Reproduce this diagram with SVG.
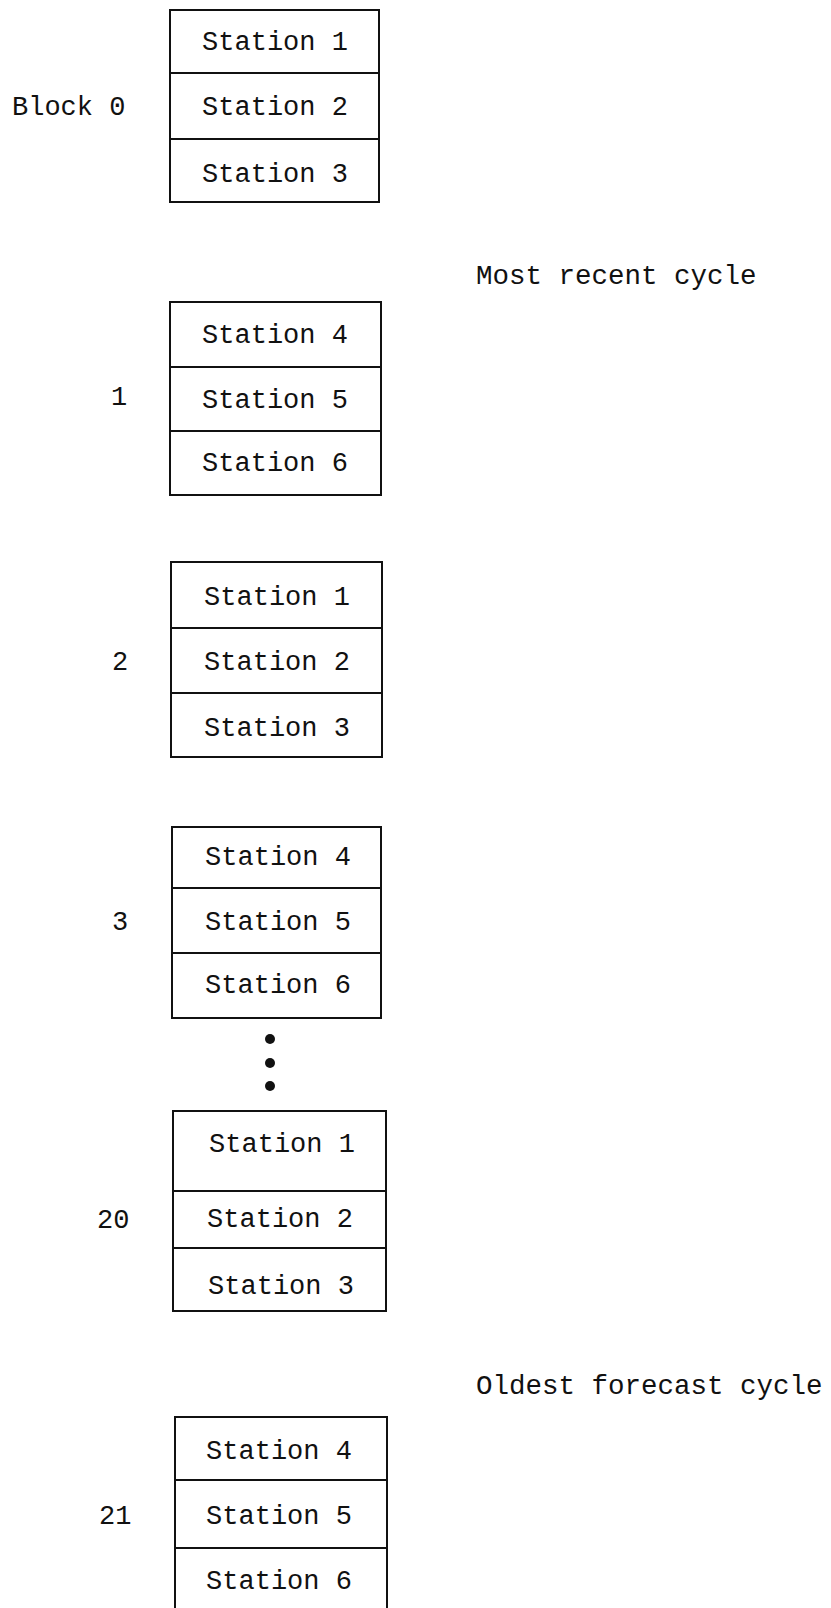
<svg xmlns="http://www.w3.org/2000/svg" width="831" height="1608" viewBox="0 0 831 1608">
<style>
  .box { fill: none; stroke: #111; stroke-width: 2; }
  .div { stroke: #111; stroke-width: 2; }
  .st { font-family: "Liberation Mono", "DejaVu Sans Mono", monospace; font-size: 27px; fill: #111; text-anchor: middle; }
  .lb { font-family: "Liberation Mono", "DejaVu Sans Mono", monospace; font-size: 27px; fill: #111; }
  .note { font-family: "Liberation Mono", "DejaVu Sans Mono", monospace; font-size: 27.5px; fill: #111; }
</style>
<rect width="831" height="1608" fill="#fff"/>

<g id="block0">
  <rect class="box" x="170" y="10" width="209" height="192"/>
  <line class="div" x1="170" y1="73" x2="379" y2="73"/>
  <line class="div" x1="170" y1="139" x2="379" y2="139"/>
  <text class="st" x="275" y="50">Station 1</text>
  <text class="st" x="275" y="115">Station 2</text>
  <text class="st" x="275" y="182">Station 3</text>
  <text class="lb" x="12" y="115">Block 0</text>
</g>

<g id="note-recent">
  <text class="note" x="476" y="284">Most recent cycle</text>
</g>

<g id="block1">
  <rect class="box" x="170" y="302" width="211" height="193"/>
  <line class="div" x1="170" y1="367" x2="381" y2="367"/>
  <line class="div" x1="170" y1="431" x2="381" y2="431"/>
  <text class="st" x="275" y="343">Station 4</text>
  <text class="st" x="275" y="408">Station 5</text>
  <text class="st" x="275" y="471">Station 6</text>
  <text class="lb" x="111" y="405">1</text>
</g>

<g id="block2">
  <rect class="box" x="171" y="562" width="211" height="195"/>
  <line class="div" x1="171" y1="628" x2="382" y2="628"/>
  <line class="div" x1="171" y1="693" x2="382" y2="693"/>
  <text class="st" x="277" y="605">Station 1</text>
  <text class="st" x="277" y="670">Station 2</text>
  <text class="st" x="277" y="736">Station 3</text>
  <text class="lb" x="112" y="670">2</text>
</g>

<g id="block3">
  <rect class="box" x="172" y="827" width="209" height="191"/>
  <line class="div" x1="172" y1="888" x2="381" y2="888"/>
  <line class="div" x1="172" y1="953" x2="381" y2="953"/>
  <text class="st" x="278" y="865">Station 4</text>
  <text class="st" x="278" y="930">Station 5</text>
  <text class="st" x="278" y="993">Station 6</text>
  <text class="lb" x="112" y="930">3</text>
</g>

<g id="ellipsis">
  <circle cx="270" cy="1039" r="5" fill="#111"/>
  <circle cx="270" cy="1063" r="5" fill="#111"/>
  <circle cx="270" cy="1086" r="5" fill="#111"/>
</g>

<g id="block20">
  <rect class="box" x="173" y="1111" width="213" height="200"/>
  <line class="div" x1="173" y1="1191" x2="386" y2="1191"/>
  <line class="div" x1="173" y1="1248" x2="386" y2="1248"/>
  <text class="st" x="282" y="1152">Station 1</text>
  <text class="st" x="280" y="1227">Station 2</text>
  <text class="st" x="281" y="1294">Station 3</text>
  <text class="lb" x="97" y="1228">20</text>
</g>

<g id="note-oldest">
  <text class="note" x="476" y="1394">Oldest forecast cycle</text>
</g>

<g id="block21">
  <rect class="box" x="175" y="1417" width="212" height="200"/>
  <line class="div" x1="175" y1="1480" x2="387" y2="1480"/>
  <line class="div" x1="175" y1="1548" x2="387" y2="1548"/>
  <text class="st" x="279" y="1459">Station 4</text>
  <text class="st" x="279" y="1524">Station 5</text>
  <text class="st" x="279" y="1589">Station 6</text>
  <text class="lb" x="99" y="1524">21</text>
</g>

<g id="connectors"></g>
</svg>
